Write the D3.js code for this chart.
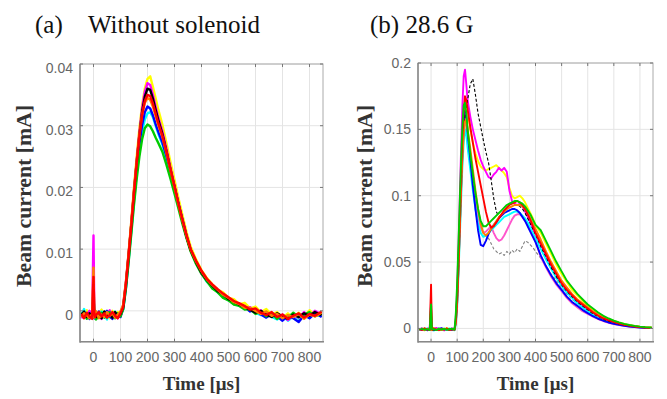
<!DOCTYPE html>
<html><head><meta charset="utf-8">
<script src="https://cdn.jsdelivr.net/npm/d3@7"></script>
<style>body{margin:0;background:#fff}</style>
</head><body><svg id="c" width="667" height="399"></svg>
<script>
// ---------- DATA ----------
const timeA = [-45,-35,-25,-15,-5,0,3,6,10,20,30,40,50,60,70,80,90,100,
  110,120,130,140,150,160,170,180,190,200,210,220,230,240,
  255,270,285,300,315,330,345,360,380,400,420,440,460,480,500,520,540,560,
  580,600,620,640,660,680,700,720,740,760,780,800,820,845];

const aYellow = [-0.0002,-0.0010,0.0001,-0.0008,-0.0003,0.0060,-0.0009,0.0000,-0.0011,-0.0004,0.0002,-0.0009,-0.0003,-0.0012,0.0000,-0.0006,-0.0002,-0.0008,
  0.0006,0.0042,0.0090,0.0142,0.0200,0.0250,0.0296,0.0333,0.0360,0.0376,0.0380,0.0363,0.0345,0.0326,
  0.0302,0.0272,0.0241,0.0212,0.0182,0.0154,0.0127,0.0104,0.0083,0.0066,0.0053,0.0043,0.0034,0.0030,0.0021,0.0019,0.0011,0.0013,
  0.0004,0.0007,-0.0002,0.0003,-0.0006,-0.0002,-0.0011,-0.0004,-0.0012,-0.0003,-0.0009,0.0001,-0.0007,-0.0002];
const aCyan = [-0.0007,0.0003,-0.0012,-0.0004,-0.0009,0.0040,-0.0003,-0.0013,-0.0005,-0.0010,-0.0001,-0.0007,-0.0014,-0.0004,-0.0009,-0.0001,-0.0011,-0.0005,
  0.0002,0.0035,0.0080,0.0128,0.0178,0.0222,0.0262,0.0290,0.0310,0.0320,0.0322,0.0314,0.0300,0.0287,
  0.0270,0.0247,0.0222,0.0197,0.0170,0.0144,0.0119,0.0098,0.0077,0.0061,0.0047,0.0039,0.0030,0.0024,0.0017,0.0014,0.0008,0.0007,
  0.0001,-0.0003,-0.0007,-0.0002,-0.0010,-0.0014,-0.0008,-0.0016,-0.0009,-0.0013,-0.0005,-0.0010,-0.0003,-0.0008];
const aMagenta = [-0.0012,-0.0005,-0.0009,0.0000,-0.0010,0.0122,-0.0006,-0.0011,-0.0002,-0.0008,-0.0013,-0.0003,-0.0007,0.0001,-0.0010,-0.0005,-0.0012,-0.0003,
  0.0009,0.0046,0.0092,0.0140,0.0195,0.0243,0.0290,0.0328,0.0355,0.0369,0.0366,0.0350,0.0331,0.0313,
  0.0291,0.0263,0.0232,0.0203,0.0174,0.0146,0.0120,0.0098,0.0078,0.0060,0.0049,0.0038,0.0033,0.0024,0.0018,0.0011,0.0012,0.0003,
  0.0006,-0.0004,0.0001,-0.0008,-0.0003,-0.0012,-0.0006,-0.0015,-0.0007,-0.0011,-0.0002,-0.0009,0.0000,-0.0006];
const aBlue = [-0.0004,-0.0011,-0.0006,-0.0013,-0.0002,0.0030,-0.0012,-0.0004,-0.0008,-0.0001,-0.0010,-0.0005,0.0000,-0.0009,-0.0013,-0.0003,-0.0007,-0.0010,
  0.0004,0.0038,0.0084,0.0132,0.0183,0.0230,0.0270,0.0301,0.0322,0.0331,0.0328,0.0317,0.0303,0.0290,
  0.0273,0.0251,0.0226,0.0200,0.0173,0.0147,0.0121,0.0099,0.0079,0.0063,0.0049,0.0040,0.0031,0.0025,0.0018,0.0013,0.0009,0.0006,
  -0.0001,0.0002,-0.0006,-0.0011,-0.0005,-0.0009,-0.0016,-0.0008,-0.0012,-0.0018,-0.0007,-0.0012,-0.0004,-0.0010];
const aGreen = [-0.0009,-0.0002,-0.0013,-0.0006,-0.0011,0.0020,-0.0002,-0.0009,-0.0014,-0.0006,-0.0003,-0.0011,-0.0008,-0.0002,-0.0006,-0.0012,-0.0004,-0.0009,
  0.0003,0.0036,0.0079,0.0125,0.0172,0.0214,0.0250,0.0278,0.0296,0.0302,0.0299,0.0291,0.0281,0.0272,
  0.0258,0.0237,0.0214,0.0190,0.0165,0.0140,0.0117,0.0096,0.0076,0.0060,0.0048,0.0036,0.0030,0.0021,0.0017,0.0010,0.0008,0.0002,
  0.0003,-0.0005,-0.0001,-0.0009,-0.0004,-0.0013,-0.0007,-0.0011,-0.0003,-0.0010,-0.0006,-0.0002,-0.0009,-0.0004];
const aBlack = [-0.0006,-0.0001,-0.0010,-0.0004,-0.0008,0.0010,-0.0007,-0.0002,-0.0010,-0.0006,-0.0012,-0.0001,-0.0008,-0.0005,-0.0011,-0.0002,-0.0009,-0.0005,
  0.0007,0.0044,0.0091,0.0140,0.0193,0.0241,0.0285,0.0322,0.0347,0.0360,0.0358,0.0344,0.0326,0.0309,
  0.0287,0.0259,0.0229,0.0201,0.0172,0.0145,0.0119,0.0098,0.0079,0.0062,0.0050,0.0041,0.0032,0.0027,0.0019,0.0015,0.0010,0.0006,
  0.0002,-0.0003,0.0000,-0.0006,-0.0010,-0.0004,-0.0009,-0.0013,-0.0006,-0.0010,-0.0004,-0.0008,-0.0002,-0.0007];
const aOrange = [-0.0010,-0.0004,-0.0007,-0.0012,-0.0005,0.0070,-0.0011,-0.0006,-0.0001,-0.0012,-0.0006,-0.0010,-0.0002,-0.0008,-0.0004,-0.0011,-0.0006,-0.0001,
  0.0010,0.0047,0.0094,0.0145,0.0196,0.0244,0.0286,0.0318,0.0337,0.0345,0.0342,0.0331,0.0316,0.0301,
  0.0282,0.0256,0.0228,0.0200,0.0171,0.0145,0.0120,0.0099,0.0080,0.0064,0.0051,0.0042,0.0034,0.0026,0.0021,0.0014,0.0011,0.0005,
  0.0005,0.0000,-0.0005,-0.0001,-0.0008,-0.0005,-0.0012,-0.0007,-0.0010,-0.0005,-0.0013,-0.0006,-0.0009,-0.0003];
const aRed = [-0.0005,-0.0012,-0.0003,-0.0009,-0.0013,0.0055,-0.0004,-0.0010,-0.0006,-0.0002,-0.0009,-0.0004,-0.0011,-0.0007,-0.0002,-0.0008,-0.0012,-0.0004,
  0.0006,0.0043,0.0090,0.0139,0.0191,0.0240,0.0283,0.0317,0.0340,0.0350,0.0348,0.0336,0.0320,0.0304,
  0.0284,0.0258,0.0230,0.0202,0.0173,0.0147,0.0122,0.0100,0.0081,0.0065,0.0052,0.0043,0.0035,0.0028,0.0022,0.0016,0.0012,0.0008,
  0.0002,0.0004,-0.0003,-0.0007,-0.0002,-0.0010,-0.0006,-0.0013,-0.0008,-0.0004,-0.0011,-0.0005,-0.0008,-0.0001];

const timeB = [-45,-35,-25,-15,-5,0,3,6,10,20,30,40,50,60,70,80,90,
  95,100,105,110,115,120,125,130,135,140,
  150,160,170,180,190,200,210,220,230,240,250,260,270,280,290,300,310,320,330,340,350,360,370,380,390,400,
  420,440,460,480,500,520,540,560,580,600,620,640,660,680,700,720,740,760,780,800,820,845];

const bGray = [-0.0010,0.0005,-0.0015,-0.0002,-0.0012,0.0120,-0.0008,0.0003,-0.0014,-0.0004,0.0006,-0.0011,-0.0001,-0.0016,-0.0005,0.0002,-0.0008,
  0.004,0.018,0.042,0.072,0.102,0.128,0.148,0.160,0.156,0.148,
  0.134,0.118,0.102,0.088,0.078,0.072,0.070,0.068,0.064,0.060,0.058,0.056,0.057,0.055,0.058,0.056,0.059,0.057,0.060,0.058,0.062,0.066,0.065,0.063,0.061,0.058,
  0.053,0.047,0.041,0.036,0.031,0.026,0.022,0.019,0.016,0.013,0.010,0.0085,0.0065,0.0052,0.004,0.0032,0.0024,0.0018,0.0012,0.0009,0.0005,0.0003];
const bYellow = [-0.0005,-0.0013,0.0002,-0.0009,-0.0003,0.015,-0.0012,-0.0004,0.0004,-0.0009,-0.0015,-0.0002,-0.0010,0.0003,-0.0007,-0.0013,-0.0001,
  0.006,0.022,0.048,0.078,0.108,0.134,0.155,0.168,0.170,0.164,
  0.150,0.140,0.132,0.126,0.122,0.120,0.119,0.120,0.121,0.122,0.123,0.121,0.119,0.117,0.114,0.106,0.100,0.098,0.099,0.100,0.098,0.095,0.091,0.087,0.083,0.078,
  0.072,0.064,0.056,0.048,0.041,0.035,0.029,0.025,0.021,0.017,0.014,0.011,0.009,0.0072,0.0056,0.0044,0.0034,0.0025,0.0019,0.0014,0.0010,0.0007];
const bMagenta = [-0.0008,0.0001,-0.0011,-0.0004,0.0003,0.020,-0.0006,-0.0014,-0.0003,0.0004,-0.0010,-0.0006,-0.0015,-0.0002,-0.0009,0.0001,-0.0012,
  0.008,0.028,0.060,0.098,0.135,0.168,0.190,0.195,0.184,0.172,
  0.160,0.150,0.142,0.134,0.127,0.122,0.118,0.114,0.113,0.116,0.118,0.121,0.119,0.121,0.118,0.104,0.096,0.094,0.093,0.094,0.092,0.088,0.084,0.080,0.075,0.071,
  0.063,0.055,0.047,0.040,0.034,0.029,0.024,0.020,0.017,0.014,0.0115,0.009,0.0072,0.0056,0.0044,0.0034,0.0026,0.002,0.0014,0.001,0.0006,0.0004];
const bPink = [-0.0012,-0.0006,-0.0001,-0.0010,-0.0004,0.008,-0.0009,-0.0001,-0.0011,-0.0005,-0.0013,-0.0007,-0.0002,-0.0010,-0.0004,-0.0012,-0.0003,
  0.005,0.021,0.047,0.077,0.107,0.133,0.150,0.158,0.152,0.140,
  0.124,0.108,0.094,0.083,0.076,0.072,0.073,0.075,0.077,0.072,0.068,0.066,0.067,0.070,0.074,0.078,0.082,0.085,0.086,0.086,0.084,0.081,0.078,0.074,0.070,0.066,
  0.054,0.046,0.039,0.033,0.028,0.023,0.019,0.016,0.013,0.011,0.0088,0.0070,0.0055,0.0043,0.0033,0.0025,0.0019,0.0014,0.0010,0.0006,0.0004,0.0002];
const bCyan = [-0.0013,-0.0004,-0.0009,0.0001,-0.0011,0.006,-0.0003,-0.0010,-0.0016,-0.0006,-0.0001,-0.0012,-0.0005,-0.0010,0.0000,-0.0008,-0.0014,
  0.003,0.016,0.040,0.068,0.096,0.122,0.140,0.150,0.146,0.136,
  0.120,0.104,0.090,0.079,0.072,0.069,0.070,0.072,0.074,0.076,0.078,0.080,0.082,0.084,0.085,0.086,0.087,0.088,0.088,0.087,0.085,0.083,0.080,0.076,0.072,0.068,
  0.060,0.052,0.045,0.038,0.032,0.027,0.023,0.019,0.016,0.013,0.0105,0.0085,0.0068,0.0052,0.0042,0.0032,0.0025,0.0019,0.0014,0.0009,0.0006,0.0003];
const bBlue = [-0.0006,-0.0012,-0.0002,-0.0014,-0.0007,0.010,-0.0011,-0.0002,-0.0008,-0.0013,-0.0004,0.0002,-0.0009,-0.0003,-0.0012,-0.0006,-0.0001,
  0.005,0.020,0.046,0.076,0.106,0.132,0.152,0.164,0.160,0.148,
  0.128,0.108,0.090,0.074,0.063,0.062,0.066,0.071,0.075,0.078,0.080,0.083,0.085,0.087,0.088,0.089,0.090,0.090,0.089,0.087,0.084,0.081,0.077,0.073,0.069,0.065,
  0.055,0.047,0.040,0.034,0.029,0.024,0.020,0.017,0.014,0.0115,0.0092,0.0073,0.0058,0.0045,0.0035,0.0027,0.0020,0.0015,0.0010,0.0007,0.0004,0.0002];
const bBlack = [-0.0009,-0.0003,-0.0012,-0.0006,-0.0001,0.004,-0.0010,-0.0005,-0.0013,-0.0002,-0.0008,-0.0014,-0.0004,-0.0009,-0.0002,-0.0011,-0.0006,
  0.004,0.018,0.044,0.074,0.104,0.130,0.150,0.160,0.166,0.172,
  0.184,0.188,0.176,0.162,0.152,0.142,0.133,0.125,0.112,0.098,0.088,0.084,0.086,0.088,0.090,0.091,0.092,0.093,0.093,0.092,0.090,0.087,0.083,0.079,0.075,0.071,
  0.062,0.054,0.046,0.039,0.033,0.028,0.024,0.020,0.017,0.014,0.011,0.009,0.007,0.0055,0.0044,0.0034,0.0026,0.0019,0.0014,0.001,0.0006,0.0003];
const bOrange = [-0.0011,-0.0005,-0.0014,-0.0003,-0.0009,0.014,-0.0013,-0.0006,0.0001,-0.0010,-0.0004,-0.0013,-0.0007,0.0000,-0.0011,-0.0004,-0.0009,
  0.004,0.019,0.044,0.073,0.103,0.128,0.146,0.156,0.158,0.150,
  0.136,0.120,0.104,0.090,0.079,0.072,0.070,0.072,0.075,0.078,0.081,0.084,0.086,0.088,0.090,0.091,0.092,0.093,0.093,0.093,0.092,0.090,0.087,0.083,0.079,0.075,
  0.067,0.058,0.050,0.043,0.036,0.031,0.026,0.022,0.019,0.016,0.013,0.0105,0.0085,0.0067,0.0052,0.0041,0.0031,0.0023,0.0017,0.0012,0.0008,0.0005];
const bRed = [-0.0004,-0.0011,0.0000,-0.0008,-0.0013,0.033,-0.0005,-0.0012,-0.0001,-0.0007,-0.0012,-0.0003,-0.0009,-0.0001,-0.0013,-0.0005,-0.0010,
  0.006,0.024,0.052,0.084,0.116,0.144,0.164,0.175,0.172,0.165,
  0.152,0.140,0.128,0.118,0.108,0.098,0.088,0.080,0.076,0.077,0.080,0.083,0.086,0.089,0.091,0.093,0.094,0.095,0.096,0.095,0.093,0.090,0.086,0.082,0.077,0.072,
  0.064,0.056,0.048,0.041,0.034,0.029,0.025,0.021,0.018,0.015,0.012,0.0095,0.0075,0.006,0.0047,0.0037,0.0028,0.0021,0.0015,0.0011,0.0007,0.0004];
const bGreen = [-0.0007,-0.0001,-0.0010,-0.0005,-0.0012,0.018,-0.0002,-0.0009,-0.0005,-0.0012,-0.0003,-0.0008,-0.0002,-0.0011,-0.0006,-0.0001,-0.0009,
  0.012,0.034,0.064,0.096,0.126,0.152,0.168,0.170,0.162,0.150,
  0.132,0.116,0.102,0.090,0.081,0.077,0.077,0.079,0.081,0.083,0.085,0.087,0.089,0.091,0.093,0.094,0.095,0.096,0.096,0.095,0.094,0.092,0.089,0.086,0.082,0.078,
  0.074,0.066,0.058,0.050,0.043,0.036,0.031,0.026,0.022,0.018,0.015,0.012,0.0095,0.0075,0.0058,0.0045,0.0034,0.0026,0.0019,0.0014,0.0010,0.0007];

const xTicks = [0,100,200,300,400,500,600,700,800];
const xTickLabels = ["0","100","200","300","400","500","600","700","800"];
const yTicksA = [0,0.01,0.02,0.03,0.04];
const yTickLabelsA = ["0","0.01","0.02","0.03","0.04"];
const yTicksB = [0,0.05,0.1,0.15,0.2];
const yTickLabelsB = ["0","0.05","0.1","0.15","0.2"];

const tracesA = [
  {c:"#ffff00", v:aYellow},{c:"#00ffff", v:aCyan},{c:"#ff00ff", v:aMagenta},{c:"#0000ff", v:aBlue},
  {c:"#00cc00", v:aGreen},{c:"#000000", v:aBlack},{c:"#ff8000", v:aOrange},{c:"#ff0000", v:aRed}];
const tracesB = [
  {c:"#808080", v:bGray, thin:true},{c:"#ffff00", v:bYellow},{c:"#ff00ff", v:bMagenta},{c:"#ff55cc", v:bPink},
  {c:"#00ffff", v:bCyan},{c:"#0000ff", v:bBlue},{c:"#000000", v:bBlack, thin:true},{c:"#ff8000", v:bOrange},
  {c:"#ff0000", v:bRed},{c:"#00cc00", v:bGreen}];

// ---------- DRAW ----------
const svg = d3.select("#c");
const defs = svg.append("defs");
defs.append("filter").attr("id", "soft").attr("x", "-5%").attr("y", "-5%").attr("width", "110%").attr("height", "110%")
  .append("feGaussianBlur").attr("stdDeviation", 0.45);

function panel(o) {
  const g = svg.append("g");
  const x = d3.scaleLinear().domain([-50, 850]).range([o.left, o.right]);
  const y = d3.scaleLinear().domain(o.yDomain).range([o.bottom, o.top]);
  const cid = "clip" + o.id;
  defs.append("clipPath").attr("id", cid).append("rect")
    .attr("x", o.left).attr("y", o.top).attr("width", o.right - o.left).attr("height", o.bottom - o.top);

  // grid
  g.selectAll(".gx").data(xTicks).join("line")
    .attr("x1", d => x(d)).attr("x2", d => x(d)).attr("y1", o.top).attr("y2", o.bottom)
    .attr("stroke", "#e4e4e4").attr("stroke-width", 1);
  g.selectAll(".gy").data(o.yTicks).join("line")
    .attr("x1", o.left).attr("x2", o.right).attr("y1", d => y(d)).attr("y2", d => y(d))
    .attr("stroke", "#e4e4e4").attr("stroke-width", 1);

  // data
  const line = d3.line().x((d, i) => x(o.time[i])).y(d => y(d));
  const dg = g.append("g").attr("clip-path", `url(#${cid})`).append("g").attr("filter", "url(#soft)");
  o.traces.forEach(t => {
    dg.append("path").attr("d", line(t.v)).attr("fill", "none")
      .attr("stroke", t.c).attr("stroke-width", t.thin ? 1.1 : o.sw)
      .attr("stroke-dasharray", t.thin ? "3,2" : null)
      .attr("stroke-linejoin", "round");
  });

  // box
  g.append("rect").attr("x", o.left).attr("y", o.top)
    .attr("width", o.right - o.left).attr("height", o.bottom - o.top)
    .attr("fill", "none").attr("stroke", "#aaa").attr("stroke-width", 1);
  g.append("line").attr("x1", o.left).attr("x2", o.left).attr("y1", o.top).attr("y2", o.bottom + 1)
    .attr("stroke", "#888").attr("stroke-width", 1.5);
  g.append("line").attr("x1", o.left).attr("x2", o.right + 1).attr("y1", o.bottom).attr("y2", o.bottom)
    .attr("stroke", "#888").attr("stroke-width", 1.5);

  // inner tick marks
  xTicks.forEach(t => {
    g.append("line").attr("x1", x(t)).attr("x2", x(t)).attr("y1", o.top).attr("y2", o.top + 3).attr("stroke", "#777");
    g.append("line").attr("x1", x(t)).attr("x2", x(t)).attr("y1", o.bottom).attr("y2", o.bottom - 3).attr("stroke", "#777");
  });
  o.yTicks.forEach(t => {
    g.append("line").attr("x1", o.left).attr("x2", o.left + 3).attr("y1", y(t)).attr("y2", y(t)).attr("stroke", "#777");
    g.append("line").attr("x1", o.right).attr("x2", o.right - 3).attr("y1", y(t)).attr("y2", y(t)).attr("stroke", "#777");
  });

  // tick labels
  g.selectAll(".xl").data(xTicks).join("text")
    .attr("x", d => x(d)).attr("y", 362).attr("text-anchor", "middle")
    .attr("font-family", "Liberation Sans, Arial, sans-serif").attr("font-size", 14).attr("fill", "#666")
    .text((d, i) => xTickLabels[i]);
  g.selectAll(".yl").data(o.yTicks).join("text")
    .attr("x", o.left - 7).attr("y", d => y(d) + o.labelShift).attr("text-anchor", "end")
    .attr("dy", "0.35em")
    .attr("font-family", "Liberation Sans, Arial, sans-serif").attr("font-size", 14).attr("fill", "#666")
    .text((d, i) => o.yLabels[i]);

  // axis titles
  g.append("text").attr("x", (o.left + o.right) / 2).attr("y", 390).attr("text-anchor", "middle")
    .attr("font-family", "Liberation Serif, Times New Roman, serif").attr("font-size", 19)
    .attr("font-weight", "bold").attr("fill", "#333")
    .text("Time [μs]");
  g.append("text").attr("transform", `translate(${o.ylabX},196) rotate(-90)`).attr("text-anchor", "middle")
    .attr("font-family", "Liberation Serif, Times New Roman, serif").attr("font-size", 20)
    .attr("font-weight", "bold").attr("fill", "#333")
    .attr("textLength", 182).attr("lengthAdjust", "spacingAndGlyphs")
    .text("Beam current [mA]");
}

panel({id: "A", left: 80, right: 323, top: 64, bottom: 341.7, yDomain: [-0.005, 0.04], sw: 2.4,
  yTicks: yTicksA, yLabels: yTickLabelsA, time: timeA, traces: tracesA, labelShift: 4, ylabX: 31});
panel({id: "B", left: 418, right: 653, top: 63, bottom: 341.7, yDomain: [-0.01, 0.2], sw: 1.9,
  yTicks: yTicksB, yLabels: yTickLabelsB, time: timeB, traces: tracesB, labelShift: 0, ylabX: 372});

// panel titles
svg.append("text").attr("x", 35).attr("y", 33)
  .attr("font-family", "Liberation Serif, Times New Roman, serif").attr("font-size", 25).attr("fill", "#111")
  .text("(a)");
svg.append("text").attr("x", 88).attr("y", 33)
  .attr("font-family", "Liberation Serif, Times New Roman, serif").attr("font-size", 25).attr("fill", "#111")
  .text("Without solenoid");
svg.append("text").attr("x", 370).attr("y", 33)
  .attr("font-family", "Liberation Serif, Times New Roman, serif").attr("font-size", 25).attr("fill", "#111")
  .text("(b) 28.6 G");
</script></body></html>
